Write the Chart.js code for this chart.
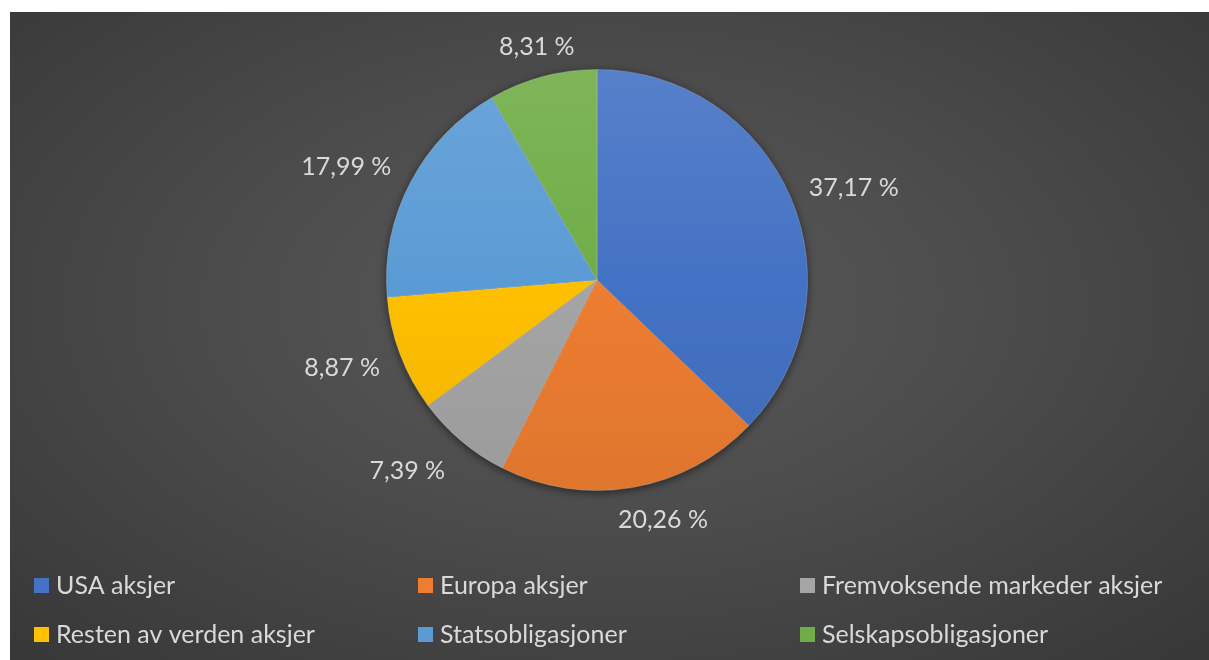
<!DOCTYPE html>
<html>
<head>
<meta charset="utf-8">
<script src="https://cdn.jsdelivr.net/npm/chart.js@4"></script>
<style>
  html, body { margin: 0; padding: 0; background: #fff; }
  body { width: 1209px; height: 660px; overflow: hidden; position: relative; }
  #wrap {
    position: absolute; left: 10px; top: 12px; width: 1199px; height: 648px;
    background: radial-gradient(ellipse 70% 75% at 50% 45%, #5a5a5a 0%, #4c4c4c 45%, #383838 100%);
  }
</style>
</head>
<body>
<div id="wrap"><canvas id="grafico" width="1199" height="648"></canvas></div>
<script>
const kategorier = ['USA aksjer', 'Europa aksjer', 'Fremvoksende markeder aksjer',
  'Resten av verden aksjer', 'Statsobligasjoner', 'Selskapsobligasjoner'];
const andeler = [37.17, 20.26, 7.39, 8.87, 17.99, 8.31];
const farger = ['#4472C4', '#ED7D31', '#A5A5A5', '#FFC000', '#5B9BD5', '#70AD47'];

const FONT = 'Lato, "Open Sans", sans-serif';
const TEKST = '#d9d9d9';

function blend(hex, to, t) {
  const n = parseInt(hex.slice(1), 16);
  const r = (n >> 16) & 255, g = (n >> 8) & 255, b = n & 255;
  const m = c => Math.round(c + (to - c) * t);
  return `rgb(${m(r)},${m(g)},${m(b)})`;
}

// skygge under hele kaka
const skygge = {
  id: 'skygge',
  beforeDatasetsDraw(chart) {
    const arc = chart.getDatasetMeta(0).data[0];
    if (!arc) return;
    const c = chart.ctx;
    c.save();
    c.shadowColor = 'rgba(0,0,0,0.55)';
    c.shadowBlur = 8;
    c.shadowOffsetY = 2;
    c.fillStyle = '#2a2a2a';
    c.beginPath();
    c.arc(arc.x, arc.y, arc.outerRadius, 0, Math.PI * 2);
    c.fill();
    c.restore();
  }
};

// prosent-etiketter utenfor kaka (Excel flytter dem litt, derav justeringene)
const justering = [[8, 14], [25, 0], [-24, -6], [-8, -5], [-12, 12], [3, 4]];
const etiketter = {
  id: 'etiketter',
  afterDatasetsDraw(chart) {
    const c = chart.ctx;
    const meta = chart.getDatasetMeta(0);
    c.save();
    c.font = `25px ${FONT}`;
    c.fillStyle = TEKST;
    c.textAlign = 'center';
    c.textBaseline = 'middle';
    meta.data.forEach((arc, i) => {
      const txt = andeler[i].toFixed(2).replace('.', ',') + ' %';
      const mid = (arc.startAngle + arc.endAngle) / 2;
      const dx = Math.cos(mid), dy = Math.sin(mid);
      const w = c.measureText(txt).width / 2;
      const d = arc.outerRadius + 14 + Math.abs(dx) * w + Math.abs(dy) * 11;
      c.fillText(txt, arc.x + dx * d + justering[i][0], arc.y + dy * d + justering[i][1]);
    });
    c.restore();
  }
};

// tegnforklaring i tre kolonner
const forklaring = {
  id: 'forklaring',
  afterDraw(chart) {
    const c = chart.ctx;
    const kol = [24, 408, 790];
    const rad = [573, 622];
    c.save();
    c.font = `25px ${FONT}`;
    c.textBaseline = 'middle';
    kategorier.forEach((navn, i) => {
      const x = kol[i % 3], y = rad[Math.floor(i / 3)];
      c.fillStyle = farger[i];
      c.fillRect(x, y - 7, 15, 15);
      c.fillStyle = TEKST;
      c.fillText(navn, x + 22, y + 1);
    });
    c.restore();
  }
};

const ctx = document.getElementById('grafico').getContext('2d');
new Chart(ctx, {
  type: 'pie',
  data: {
    labels: kategorier,
    datasets: [{
      data: andeler,
      backgroundColor: (context) => {
        const area = context.chart.chartArea;
        const i = context.dataIndex;
        if (!area) return farger[i];
        const g = context.chart.ctx.createLinearGradient(0, area.top, 0, area.bottom);
        g.addColorStop(0, blend(farger[i], 255, 0.1));
        g.addColorStop(0.5, farger[i]);
        g.addColorStop(1, blend(farger[i], 0, 0.06));
        return g;
      },
      borderColor: 'rgba(210,210,210,0.35)',
      borderWidth: 0.8
    }]
  },
  options: {
    responsive: false,
    animation: false,
    layout: { padding: { top: 57, bottom: 169, left: 376, right: 401 } },
    plugins: {
      legend: { display: false },
      tooltip: { enabled: false }
    }
  },
  plugins: [skygge, etiketter, forklaring]
});
</script>
</body>
</html>
